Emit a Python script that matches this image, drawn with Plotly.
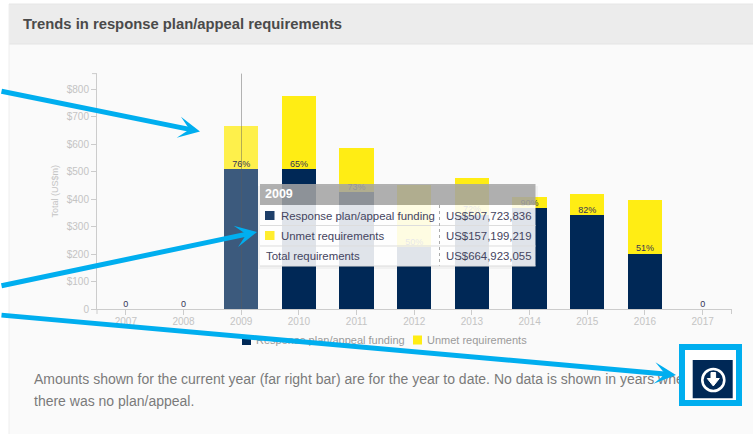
import plotly.graph_objects as go

W, H = 753, 434
years = ["2007", "2008", "2009", "2010", "2011", "2012", "2013", "2014", "2015", "2016", "2017"]
funding = [0, 0, 507.7, 508, 426, 225, 343, 367, 342, 201, 0]
unmet = [0, 0, 157.2, 266.5, 159, 225, 133, 40, 76, 195, 0]
labels = ["0", "0", "76%", "65%", "73%", "50%", "72%", "90%", "82%", "51%", "0"]
y_ticks = [0, 100, 200, 300, 400, 500, 600, 700, 800]
y_text = ["0", "$100", "$200", "$300", "$400", "$500", "$600", "$700", "$800"]
legend_names = ["Response plan/appeal funding", "Unmet requirements"]
tip_rows = [("Response plan/appeal funding", "US$507,723,836"),
            ("Unmet requirements", "US$157,199,219"),
            ("Total requirements", "US$664,923,055")]
title = "Trends in response plan/appeal requirements"
note = ["Amounts shown for the current year (far right bar) are for the year to date. No data is shown in years whe",
        "there was no plan/appeal."]

NAVY, YEL, BLUE, AX = "#002856", "#FFED14", "#00AEEF", "#cccccc"
hl = [0.76 if y == "2009" else 1 for y in years]

fig = go.Figure()
fig.add_bar(x=years, y=funding, name=legend_names[0],
            marker=dict(color=NAVY, opacity=hl, line_width=0))
fig.add_bar(x=years, y=unmet, name=legend_names[1],
            marker=dict(color=YEL, opacity=hl, line_width=0))
fig.add_scatter(x=years, y=funding, mode="text", text=labels, textposition="top center", cliponaxis=False,
                textfont=dict(family="Liberation Sans", size=9, color="#333355"))


def X(p):
    return p / W


def Y(p):
    return 1 - p / H


def rect(x0, y0, x1, y1, fill, layer="above", line=None):
    fig.add_shape(type="rect", xref="paper", yref="paper", x0=X(x0), x1=X(x1), y0=Y(y0), y1=Y(y1),
                  fillcolor=fill, layer=layer, line=line or dict(width=0))


def seg(x0, y0, x1, y1, color, width=1, dash="solid", layer="above"):
    fig.add_shape(type="line", xref="paper", yref="paper", x0=X(x0), x1=X(x1), y0=Y(y0), y1=Y(y1),
                  layer=layer, line=dict(color=color, width=width, dash=dash))


def poly(points, fill):
    d = "M" + " L".join(f"{X(a):.5f},{Y(b):.5f}" for a, b in points) + " Z"
    fig.add_shape(type="path", xref="paper", yref="paper", path=d, fillcolor=fill, layer="above",
                  line=dict(width=1, color=fill))


def text(x, y, s, size, color, anchor="left", weight="normal", family="Liberation Sans", **kw):
    fig.add_annotation(xref="paper", yref="paper", x=X(x), y=Y(y), text=s, showarrow=False,
                       xanchor=anchor, yanchor="middle", borderpad=0,
                       font=dict(family=family, size=size, color=color, weight=weight), **kw)


# page panel
rect(9, 4, 753, 434, "#fafafa", "below")
rect(9, 4, 753, 44, "#ececec", "below")
seg(9, 44, 753, 44, "#e4e4e4", layer="below")
seg(9, 4, 9, 434, "#eeeeee", layer="below")
seg(9, 4, 753, 4, "#e6e6e6", layer="below")

# axis end ticks
seg(97, 309, 97, 314, AX)
seg(731.5, 309, 731.5, 314, AX)
seg(92, 73.6, 97, 73.6, AX)

# hover line
seg(241.5, 73.6, 241.5, 309, "rgba(90,90,90,0.45)")

# tooltip
rect(258, 186, 538, 269, "rgba(0,0,0,0.035)")
rect(260, 184, 535.5, 205, "rgba(164,164,164,0.86)")
rect(260, 205, 535.5, 266, "rgba(255,255,255,0.88)")
seg(260, 225.5, 535.5, 225.5, "#dddddd")
seg(260, 246, 535.5, 246, "#dddddd")
seg(439.5, 205, 439.5, 266, "#aaaaaa", dash="dot")
seg(260, 266, 535.5, 266, "#dddddd")
rect(265, 211, 274.5, 220, "#1f3f69")
rect(265, 231, 274.5, 240, "#FFED2E")

# legend
rect(242, 336, 251, 345, NAVY)
rect(413, 335.5, 422, 344.5, YEL)
text(254.5, 340, legend_names[0], 11, "#9a9a9a")
text(425.5, 340, legend_names[1], 11, "#9a9a9a")

text(263.5, 194.5, "2009", 12.5, "#ffffff", weight="bold")
text(279.5, 215.5, tip_rows[0][0], 11.4, "#44445f")
text(279.5, 235.5, tip_rows[1][0], 11.4, "#44445f")
text(264.5, 256, tip_rows[2][0], 11.4, "#44445f")
for yy, r in zip((215.5, 235.5, 256), tip_rows):
    text(444.5, yy, r[1], 11.4, "#44445f")

text(22, 24.5, title, 14.8, "#4a4a4a", weight="bold")

# download control: white interior and dark button with icon
rect(682, 347, 739, 403, "#ffffff")
rect(692.7, 360, 732.7, 398.3, NAVY)
fig.add_shape(type="circle", xref="paper", yref="paper", x0=X(702.3), x1=X(724.3), y0=Y(369), y1=Y(391),
              layer="above", fillcolor="rgba(0,0,0,0)", line=dict(color="#ffffff", width=2.6))
poly([(711, 372.5), (715.6, 372.5), (715.6, 378.5), (719.3, 378.5), (713.3, 386), (707.3, 378.5), (711, 378.5)],
     "#ffffff")

text(33, 378.5, note[0], 14, "#7a7a7a")
text(33, 400.5, note[1], 14, "#7a7a7a")

# frame lies over the note text
text(710.5, 375, "&nbsp;", 10, BLUE, anchor="center", width=51, height=50, bgcolor="rgba(0,0,0,0)",
     bordercolor=BLUE, borderwidth=6)


def arrow(x0, y0, x1, y1):
    fig.add_annotation(xref="paper", yref="paper", axref="pixel", ayref="pixel",
                       x=X(x1), y=Y(y1), ax=x0 - x1, ay=y0 - y1, text="", showarrow=True,
                       arrowhead=3, arrowsize=0.72, arrowwidth=5, arrowcolor=BLUE, standoff=0)


arrow(-5, 91, 200, 131.5)
arrow(-5, 286, 257, 232)
arrow(-5, 315, 676, 375)

fig.update_layout(
    width=W, height=H, margin=dict(l=0, r=0, t=0, b=0, autoexpand=False), barmode="stack", bargap=0.405,
    paper_bgcolor="#ffffff", plot_bgcolor="rgba(0,0,0,0)", showlegend=False,
    font=dict(family="Liberation Sans"),
    xaxis=dict(domain=[X(97), X(731.5)], type="category", categoryorder="array", categoryarray=years,
               range=[-0.5, 10.5], ticks="outside", ticklen=5, tickcolor=AX, showline=True, linecolor=AX,
               linewidth=1, showgrid=False, zeroline=False, ticklabelstandoff=-2,
               tickfont=dict(size=10, color="#c4c4c4", family="Liberation Sans")),
    yaxis=dict(domain=[Y(309), Y(73.6)], range=[0, 856], tickvals=y_ticks, ticktext=y_text, ticks="outside",
               ticklen=5, tickcolor=AX, showline=True, linecolor=AX, linewidth=1, showgrid=False, zeroline=False,
               tickfont=dict(size=10, color="#c4c4c4", family="Liberation Sans"),
               title=dict(text="Total (US$m)", font=dict(size=9, color="#c4c4c4"), standoff=6)),
)

fig.write_html("out.html", config=dict(displayModeBar=False),
               post_script="document.body.style.margin='0';document.body.style.overflow='hidden';")
